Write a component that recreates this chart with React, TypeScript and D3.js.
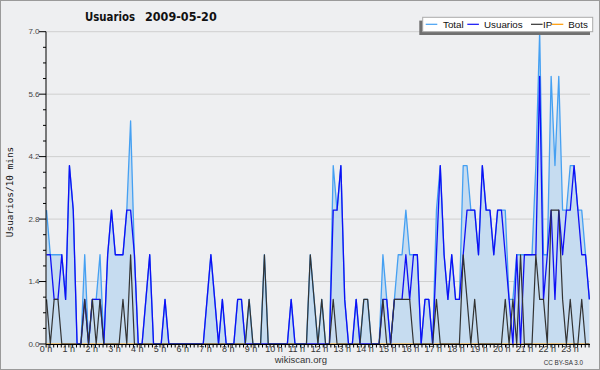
import React from 'react';
import * as d3 from 'd3';

const titleWord = 'Usuarios';
const titleDate = '2009-05-20';
const yLabel = 'Usuarios/10 mins';
const yTicks = [0, 1.4, 2.8, 4.2, 5.6, 7.0];
const hourLabels = Array.from({ length: 24 }, (_, h) => `${h} h`);
const legendItems = ['Total', 'Usuarios', 'IP', 'Bots'];

const usuarios = [
  2,2,1,1,2,1,4,3,0,0, 1,0,1,1,1,0,2,3,2,2, 2,3,3,2,0,0,1,2,0,0,
  0,1,0,0,0,0,0,0,0,0, 0,0,1,2,1,0,1,0,0,0, 1,1,0,0,0,0,0,0,0,0,
  0,0,0,0,1,0,0,0,0,0, 0,0,0,0,0,3,3,4,1,0, 0,1,0,0,0,0,0,0,1,1,
  0,1,1,1,2,1,2,2,0,1, 1,0,2,4,2,1,2,1,1,2, 3,3,3,2,4,3,3,2,3,3,
  2,1,0,2,0,2,2,2,2,6, 1,2,3,1,3,2,3,3,4,3, 2,2,1,
];
const ip = [
  1,0,1,1,0,0,0,0,0,0, 1,0,1,0,1,0,0,0,0,0, 1,0,2,0,0,0,0,0,0,0,
  0,0,0,0,0,0,0,0,0,0, 0,0,0,0,0,0,0,0,0,0, 0,0,0,1,0,0,0,2,0,0,
  0,0,0,0,0,0,0,0,0,2, 1,0,1,0,0,1,0,0,0,0, 0,0,0,1,1,0,0,0,1,0,
  0,1,1,1,1,1,0,0,0,0, 0,0,1,0,0,0,0,0,0,2, 1,0,1,0,0,0,0,0,0,0,
  1,0,1,0,2,0,0,0,2,1, 1,0,3,3,3,1,0,1,0,0, 1,0,0,
];
const total = [
  3,2,2,2,2,1,4,3,0,0, 2,0,1,1,2,0,2,3,2,2, 2,3,5,2,0,0,1,2,0,0,
  0,1,0,0,0,0,0,0,0,0, 0,0,1,2,1,0,1,0,0,0, 1,1,0,1,0,0,0,2,0,0,
  0,0,0,0,1,0,0,0,0,2, 1,0,1,0,0,4,3,4,1,0, 0,1,0,1,1,0,0,0,2,1,
  0,1,2,2,3,2,2,2,0,1, 1,0,3,4,2,1,2,1,1,4, 4,3,3,2,4,3,3,2,3,3,
  3,1,1,2,2,2,2,2,4,7, 2,2,6,4,6,3,3,4,4,3, 3,2,1,
];
const bots = [
  0,0,0,0,0,0,0,0,0,0, 0,0,0,0,0,0,0,0,0,0, 0,0,0,0,0,0,0,0,0,0,
  0,0,0,0,0,0,0,0,0,0, 0,0,0,0,0,0,0,0,0,0, 0,0,0,0,0,0,0,0,0,0,
  0,0,0,0,0,0,0,0,0,0, 0,0,0,0,0,0,0,0,0,0, 0,0,0,0,0,0,0,0,0,0,
  0,0,0,0,0,0,0,0,0,0, 0,0,0,0,0,0,0,0,0,0, 0,0,0,0,0,0,0,0,0,0,
  0,0,0,0,0,0,0,0,0,0, 0,0,0,0,0,0,0,0,0,0, 0,0,0,
];

const W = 600, H = 370;
const L = 46, R = 590, T = 31.7, B = 344;
const BG = '#eeeff1';
const C_TOTAL = '#45a0f2';
const C_FILL = '#c6dcf0';
const C_USU = '#0f0ff5';
const C_IP = '#333333';
const C_BOTS = '#ff9900';
const SANS = 'Liberation Sans, Arial, sans-serif';

export default function App() {
  const n = usuarios.length;
  const x = d3.scaleLinear().domain([0, n - 1]).range([46.5, 46.5 + (n - 1) * 3.823]);
  const xt = d3.scaleLinear().domain([0, 24]).range([46.1, 46.1 + 24 * 22.78]);
  const y = d3.scaleLinear().domain([0, 7]).range([B, T]);
  const line = (arr: number[]) =>
    d3.line<number>().x((_, i) => x(i)).y((d) => y(d))(arr) || '';
  const area =
    d3.area<number>().x((_, i) => x(i)).y0(B).y1((d) => y(d))(total) || '';
  const minorY = d3.range(0, 7.0001, 0.35);
  const minorX = d3.range(0, 24 * 6 + 1).map((k) => k / 6).filter((h) => xt(h) <= R + 0.5);

  return (
    <svg width={W} height={H} style={{ position: 'absolute', left: 0, top: 0 }}>
      <rect x={0} y={0} width={W} height={H} fill={BG} />
      <rect x={0.5} y={0.5} width={W - 1} height={H - 1} fill="none" stroke="#9a9a9a" />
      <text x={85} y={20.7} fontFamily="DejaVu Sans, sans-serif" fontWeight="bold" fontSize={12.5} fill="#111"
        textLength={50} lengthAdjust="spacingAndGlyphs">{titleWord}</text>
      <text x={145} y={20.7} fontFamily="DejaVu Sans, sans-serif" fontWeight="bold" fontSize={12.5} fill="#111"
        textLength={71.7} lengthAdjust="spacingAndGlyphs">{titleDate}</text>
      {yTicks.map((t) => (
        <line key={'g' + t} x1={L} x2={R} y1={y(t)} y2={y(t)} stroke="#cfcfcf" strokeWidth={1} />
      ))}
      <path d={area} fill={C_FILL} stroke="none" />
      <path d={line(bots)} fill="none" stroke={C_BOTS} strokeWidth={1.2} />
      <path d={line(total)} fill="none" stroke={C_TOTAL} strokeWidth={1.3} strokeLinejoin="round" />
      <path d={line(usuarios)} fill="none" stroke={C_USU} strokeWidth={1.3} strokeLinejoin="round" />
      <path d={line(ip)} fill="none" stroke={C_IP} strokeWidth={1.2} strokeLinejoin="round" />
      <line x1={L} x2={L} y1={T} y2={B} stroke="#000" />
      <line x1={L} x2={R} y1={B + 0.5} y2={B + 0.5} stroke="#000" />
      {minorY.map((t, i) => (
        <line key={'my' + i} x1={L - (i % 4 === 0 ? 7 : 3)} x2={L} y1={y(t)} y2={y(t)} stroke="#000" />
      ))}
      {yTicks.map((t) => (
        <text key={'yl' + t} x={39.5} y={y(t) + 2.7} textAnchor="end" fontFamily={SANS} fontSize={8} fill="#444">
          {t.toFixed(1)}
        </text>
      ))}
      {minorX.map((h, i) => (
        <line key={'mx' + i} x1={xt(h)} x2={xt(h)} y1={B} y2={B + 3.5} stroke="#000" />
      ))}
      {hourLabels.map((lab, h) => (
        <text key={lab} x={xt(h)} y={352} textAnchor="middle" fontFamily={SANS} fontSize={9} fill="#333">
          {lab}
        </text>
      ))}
      <text x={13.3} y={192} transform="rotate(-90 13.3 192)" textAnchor="middle" fontFamily="DejaVu Sans Mono, monospace" fontSize={9.4} fill="#111">
        {yLabel}
      </text>
      <text x={300.8} y={363} textAnchor="middle" fontFamily={SANS} fontSize={9.5} fill="#333">wikiscan.org</text>
      <text x={583} y={365} textAnchor="end" fontFamily={SANS} fontSize={6.3} fill="#333">CC BY-SA 3.0</text>
      <g>
        <rect x={419.3} y={20.6} width={170.7} height={14.4} fill="#707070" />
        <rect x={422.7} y={17.3} width={170} height={14.4} fill="#fff" stroke="#aaa" />
        {legendItems.map((name, k) => {
          const lx = [425.7, 467.3, 531, 551.7][k];
          const tx = [443, 484, 543, 568.3][k];
          const col = [C_TOTAL, C_USU, C_IP, C_BOTS][k];
          return (
            <g key={name}>
              <line x1={lx} x2={lx + 11.6} y1={24.3} y2={24.3} stroke={col} strokeWidth={1.2} />
              <text x={tx} y={28.4} fontFamily={SANS} fontSize={9.8} fill="#111">{name}</text>
            </g>
          );
        })}
      </g>
    </svg>
  );
}
